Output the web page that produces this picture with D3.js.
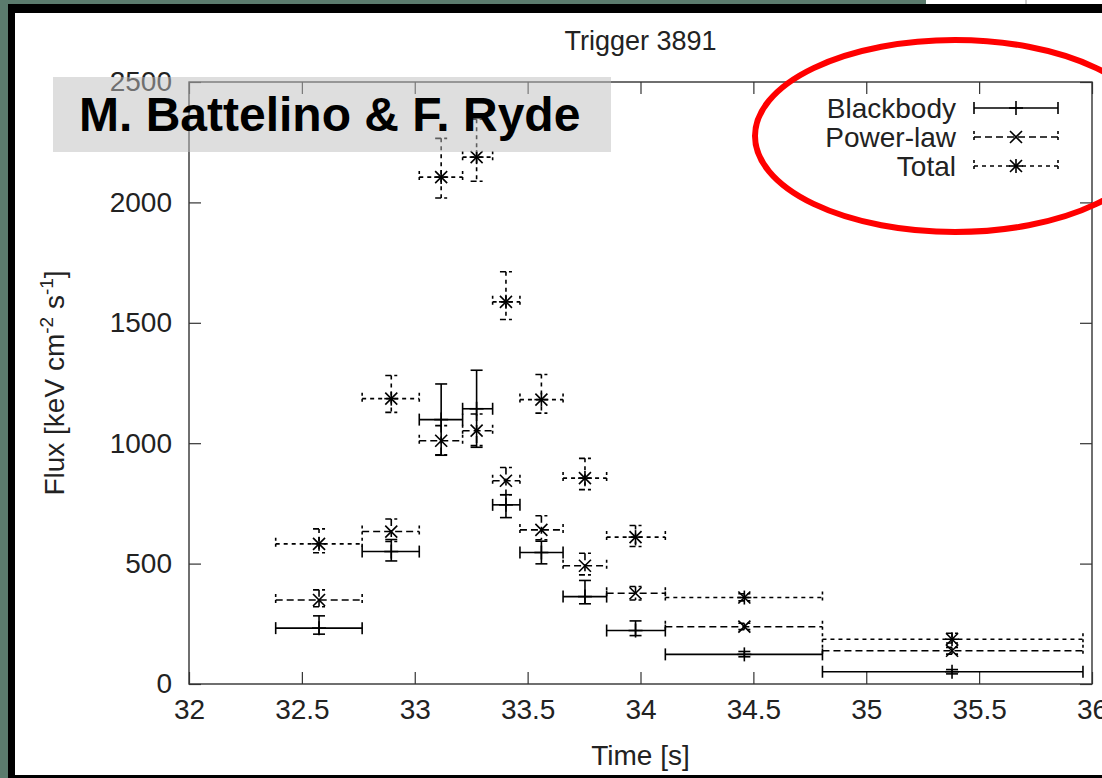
<!DOCTYPE html>
<html>
<head>
<meta charset="utf-8">
<script src="https://cdn.jsdelivr.net/npm/d3@7"></script>
<style>
  html, body { margin: 0; padding: 0; background: #5b7b6d; }
  svg { display: block; }
  text { font-family: "Liberation Sans", Arial, sans-serif; }
</style>
</head>
<body>
<svg id="chart" width="1102" height="778"></svg>
<script>
// ---------- data ----------
const binStart  = [32.384, 32.767, 33.02, 33.212, 33.345, 33.466, 33.657, 33.85, 34.11, 34.806];
const binEnd    = [32.767, 33.02, 33.212, 33.345, 33.466, 33.657, 33.85, 34.11, 34.806, 35.96];
const binCenter = [32.576, 32.896, 33.117, 33.274, 33.404, 33.561, 33.754, 33.978, 34.46, 35.38];

const bbFlux  = [232, 550, 1098, 1143, 744, 546, 363, 222, 123, 51];
const bbLow   = [207, 511, 950, 983, 691, 499, 333, 201, 113, 42];
const bbHigh  = [283, 600, 1246, 1303, 786, 593, 430, 262, 135, 60];

const plFlux  = [349, 633, 1010, 1052, 844, 640, 491, 377, 238, 138];
const plLow   = [321, 592, 952, 990, 786, 599, 453, 349, 226, 124];
const plHigh  = [391, 685, 1073, 1121, 899, 699, 543, 405, 252, 152];

const totFlux = [582, 1185, 2105, 2188, 1587, 1181, 855, 610, 359, 186];
const totLow  = [545, 1128, 2018, 2088, 1514, 1125, 807, 571, 345, 170];
const totHigh = [644, 1281, 2266, 2345, 1712, 1285, 937, 658, 375, 211];

const xTicks = [32, 32.5, 33, 33.5, 34, 34.5, 35, 35.5, 36];
const yTicks = [0, 500, 1000, 1500, 2000, 2500];
const seriesNames = ["Blackbody", "Power-law", "Total"];
const titleText = "Trigger 3891";
const authorText = "M. Battelino & F. Ryde";

// ---------- layout ----------
const svg = d3.select("#chart");
const L = 189, R = 1092, T = 82, B = 684;
const x = d3.scaleLinear().domain([32, 36]).range([L, R]);
const y = d3.scaleLinear().domain([0, 2500]).range([B, T]);

// background panels
svg.append("rect").attr("x", 0).attr("y", 0).attr("width", 1102).attr("height", 778).attr("fill", "#5b7b6d");
svg.append("rect").attr("x", 926).attr("y", 0).attr("width", 176).attr("height", 6).attr("fill", "#fff");
svg.append("line").attr("x1", 1026).attr("x2", 1026).attr("y1", 0).attr("y2", 6).attr("stroke", "#999");
svg.append("rect").attr("x", 8).attr("y", 4).attr("width", 1100).attr("height", 774).attr("fill", "#000");
svg.append("rect").attr("x", 15).attr("y", 13).attr("width", 1090).attr("height", 762).attr("fill", "#fff");

const g = svg.append("g");

// axes (gnuplot style: inward ticks, mirrored)
const axisColor = "#333";
function styleAxis(sel, labels) {
  sel.select(".domain").remove();
  sel.selectAll(".tick line").attr("stroke", axisColor).attr("stroke-width", 1.2);
  sel.selectAll(".tick text").attr("fill", "#222").style("font-size", "28px")
     .style("font-family", "'Liberation Sans', Arial, sans-serif");
  if (!labels) sel.selectAll(".tick text").remove();
}
g.append("g").attr("transform", `translate(0,${B})`)
  .call(d3.axisBottom(x).tickValues(xTicks).tickFormat(d3.format("")).tickSize(-12).tickPadding(15))
  .call(s => styleAxis(s, true));
g.append("g").attr("transform", `translate(0,${T})`)
  .call(d3.axisTop(x).tickValues(xTicks).tickSize(-12))
  .call(s => styleAxis(s, false));
g.append("g").attr("transform", `translate(${L},0)`)
  .call(d3.axisLeft(y).tickValues(yTicks).tickFormat(d3.format("")).tickSize(-12).tickPadding(17))
  .call(s => styleAxis(s, true));
g.append("g").attr("transform", `translate(${R},0)`)
  .call(d3.axisRight(y).tickValues(yTicks).tickSize(-12))
  .call(s => styleAxis(s, false));
g.append("rect").attr("x", L).attr("y", T).attr("width", R - L).attr("height", B - T)
  .attr("fill", "none").attr("stroke", axisColor).attr("stroke-width", 1.4);

// titles
svg.append("text").attr("x", (L + R) / 2).attr("y", 50).attr("text-anchor", "middle")
  .attr("fill", "#222").style("font-size", "27px").text(titleText);
svg.append("text").attr("x", (L + R) / 2).attr("y", 765).attr("text-anchor", "middle")
  .attr("fill", "#222").style("font-size", "28px").text("Time [s]");
const yl = svg.append("text").attr("transform", `translate(64,${(T + B) / 2}) rotate(-90)`)
  .attr("text-anchor", "middle").attr("fill", "#222").style("font-size", "28px");
yl.append("tspan").text("Flux [keV cm");
yl.append("tspan").attr("dy", -11).style("font-size", "19px").text("-2");
yl.append("tspan").attr("dy", 11).text(" s");
yl.append("tspan").attr("dy", -11).style("font-size", "19px").text("-1");
yl.append("tspan").attr("dy", 11).text("]");

// series
const series = [
  { name: seriesNames[0], v: bbFlux, lo: bbLow, hi: bbHigh, dash: null, marker: "plus" },
  { name: seriesNames[1], v: plFlux, lo: plLow, hi: plHigh, dash: "7,4", marker: "cross" },
  { name: seriesNames[2], v: totFlux, lo: totLow, hi: totHigh, dash: "4,4", marker: "star" }
];
const cap = 6;
function marker(sel, cx, cy, type) {
  const p = [];
  const s = 7;
  if (type === "plus" || type === "star") { p.push([cx - s, cy, cx + s, cy]); p.push([cx, cy - s, cx, cy + s]); }
  if (type === "cross" || type === "star") { const d = 6; p.push([cx - d, cy - d, cx + d, cy + d]); p.push([cx - d, cy + d, cx + d, cy - d]); }
  p.forEach(q => sel.append("line").attr("x1", q[0]).attr("y1", q[1]).attr("x2", q[2]).attr("y2", q[3])
    .attr("stroke", "#000").attr("stroke-width", 1.6));
}
function seg(sel, x1, y1, x2, y2, dash) {
  const l = sel.append("line").attr("x1", x1).attr("y1", y1).attr("x2", x2).attr("y2", y2)
    .attr("stroke", "#000").attr("stroke-width", 1.6);
  if (dash) l.attr("stroke-dasharray", dash);
}
series.forEach(s => {
  const sg = g.append("g");
  s.v.forEach((v, i) => {
    const cx = x(binCenter[i]), cy = y(v);
    const x0 = x(binStart[i]), x1 = x(binEnd[i]);
    const yl0 = y(s.lo[i]), yh = y(s.hi[i]);
    seg(sg, x0, cy, x1, cy, s.dash);
    seg(sg, x0, cy - cap, x0, cy + cap, s.dash ? "3,3" : null);
    seg(sg, x1, cy - cap, x1, cy + cap, s.dash ? "3,3" : null);
    seg(sg, cx, yh, cx, yl0, s.dash);
    seg(sg, cx - cap, yh, cx + cap, yh, s.dash ? "6,3" : null);
    seg(sg, cx - cap, yl0, cx + cap, yl0, s.dash ? "6,3" : null);
    marker(sg, cx, cy, s.marker);
  });
});

// legend
const legX1 = 974, legX2 = 1058, legMid = 1016, legText = 956;
series.forEach((s, i) => {
  const ly = 108 + i * 29;
  const lg = g.append("g");
  lg.append("text").attr("x", legText).attr("y", ly + 10).attr("text-anchor", "end")
    .attr("fill", "#222").style("font-size", "28px").text(s.name);
  seg(lg, legX1, ly, legX2, ly, s.dash);
  seg(lg, legX1, ly - cap, legX1, ly + cap, s.dash ? "3,3" : null);
  seg(lg, legX2, ly - cap, legX2, ly + cap, s.dash ? "3,3" : null);
  marker(lg, legMid, ly, s.marker);
});

// author box (semi-transparent)
svg.append("rect").attr("x", 53).attr("y", 77).attr("width", 558).attr("height", 75)
  .attr("fill", "#bdbdbd").attr("fill-opacity", 0.5);
svg.append("text").attr("x", 79).attr("y", 131).attr("fill", "#000")
  .style("font-size", "48px").style("font-weight", "bold").text(authorText);

// red ellipse
svg.append("ellipse").attr("cx", 955).attr("cy", 136).attr("rx", 200).attr("ry", 96)
  .attr("fill", "none").attr("stroke", "#ff0000").attr("stroke-width", 6);
</script>
</body>
</html>
